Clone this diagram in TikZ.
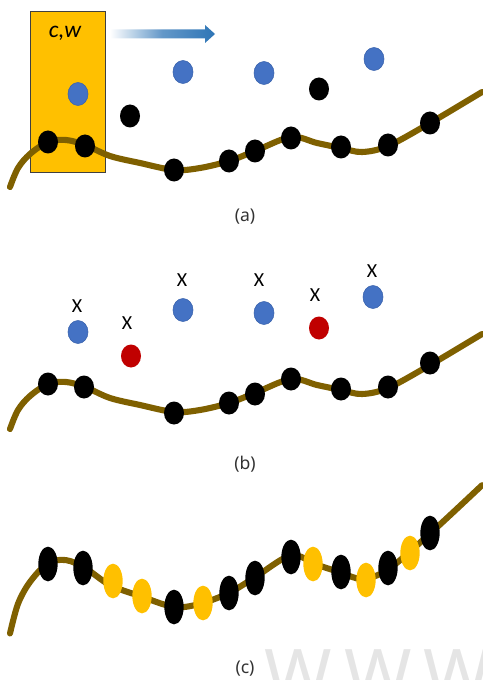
\documentclass[tikz,border=0pt]{standalone}
\usepackage{fontspec}
\setmainfont{Noto Sans}
\newfontfamily\calfont{Carlito}
\usetikzlibrary{shapes.geometric}
\definecolor{winGold}{HTML}{FFC000}
\definecolor{trackOlive}{HTML}{7F6000}
\definecolor{ptBlue}{HTML}{4472C4}
\definecolor{ptBlueEdge}{HTML}{3A63AD}
\definecolor{ptRed}{HTML}{C00000}
\definecolor{moveBlue}{HTML}{2E75B6}
\newcommand{\trackline}{plot[smooth, tension=0.55] coordinates {(10,187) (18,168) (30,154) (48,142) (66,140) (85,145) (110,156) (140,163) (174,170) (200,168) (229,161) (255,151) (291,137) (317,143) (341,148) (362,152) (388,146) (430,123) (482,92)}}
\tikzset{
    track/.style={draw=trackOlive, line width=5.2pt, line cap=round},
    winbox/.style={draw=black!75, line width=0.5pt, fill=winGold, minimum width=2.25cm, minimum height=4.83cm, inner sep=0pt},
    onpt/.style={ellipse, fill=black, inner sep=0pt, minimum width=0.6cm, minimum height=0.69cm},
    tallpt/.style={ellipse, fill=black, inner sep=0pt, minimum width=0.58cm, minimum height=1.04cm},
    goldpt/.style={tallpt, fill=winGold},
    bluept/.style={onpt, fill=ptBlue, draw=ptBlueEdge, line width=0.5pt},
    redpt/.style={onpt, fill=ptRed},
    xlab/.style={font=\calfont\fontsize{17}{20}\selectfont, inner sep=0pt},
    caption/.style={font=\fontsize{15}{18}\selectfont, text=black!80, inner sep=0pt},
    wmtext/.style={font=\fontsize{62}{70}\selectfont, text=black!10, inner sep=0pt}
}
\begin{document}
\begin{tikzpicture}[x=0.03cm, y=-0.03cm]
\useasboundingbox (0,0) rectangle (483,680);
\node[wmtext] (wm) at (378,676) {W\,W\,W};
% (a)
\node[winbox] (win) at (67.5,91.5) {};
\node[font=\calfont\itshape\fontsize{20}{24}\selectfont, inner sep=0pt] (cw) at (65,33) {c,w};
\shade[left color=white, right color=moveBlue, middle color=moveBlue!75] (110,29.5) -- (205,29.5) -- (205,25) -- (215,34) -- (205,43) -- (205,38.5) -- (110,38.5) -- cycle;
\draw[track] \trackline;
\node[onpt] (a1) at (48,142) {}; \node[onpt] (a2) at (85,146) {}; \node[onpt] (a3) at (174,170) {};
\node[onpt] (a4) at (229,161) {}; \node[onpt] (a5) at (255,151) {}; \node[onpt] (a6) at (291,138) {};
\node[onpt] (a7) at (341,147) {}; \node[onpt] (a8) at (388,145) {}; \node[onpt] (a9) at (430,123) {};
\node[bluept] (ab1) at (78,94) {}; \node[bluept] (ab2) at (183,72) {}; \node[bluept] (ab3) at (264,73) {}; \node[bluept] (ab4) at (374,59) {};
\node[onpt] (ak1) at (130,116) {}; \node[onpt] (ak2) at (319,89) {};
\node[caption] (capa) at (245,217) {(a)};
% (b)
\begin{scope}[shift={(0,242)}]
\draw[track] \trackline;
\end{scope}
\node[onpt] (b1) at (48,384) {}; \node[onpt] (b2) at (84,387) {}; \node[onpt] (b3) at (174,413) {};
\node[onpt] (b4) at (229,403) {}; \node[onpt] (b5) at (255,394) {}; \node[onpt] (b6) at (291,379) {};
\node[onpt] (b7) at (341,389) {}; \node[onpt] (b8) at (388,387) {}; \node[onpt] (b9) at (430,363) {};
\node[bluept] (bb1) at (78,332) {}; \node[redpt] (br1) at (131,356) {}; \node[bluept] (bb2) at (183,310) {};
\node[bluept] (bb3) at (264,313) {}; \node[redpt] (br2) at (319,328) {}; \node[bluept] (bb4) at (373,297) {};
\node[xlab] (x1) at (77,306) {X}; \node[xlab] (x2) at (127,323) {X}; \node[xlab] (x3) at (182,280) {X};
\node[xlab] (x4) at (259,280) {X}; \node[xlab] (x5) at (315,295) {X}; \node[xlab] (x6) at (372,271) {X};
\node[caption] (capb) at (245,464) {(b)};
% (c)
\begin{scope}[shift={(0,557)}, yscale=1.56, shift={(0,-138)}]
\draw[track] \trackline;
\end{scope}
\node[tallpt] (c1) at (48,564) {}; \node[tallpt] (c2) at (83,568) {}; \node[goldpt] (g1) at (113,581) {};
\node[goldpt] (g2) at (142,596) {}; \node[tallpt] (c3) at (174,607) {}; \node[goldpt] (g3) at (203,603) {};
\node[tallpt] (c4) at (229,593) {}; \node[tallpt] (c5) at (255,578) {}; \node[tallpt] (c6) at (291,557) {};
\node[goldpt] (g4) at (313,564) {}; \node[tallpt] (c7) at (341,572) {}; \node[goldpt] (g5) at (366,580) {};
\node[tallpt] (c8) at (388,568) {}; \node[goldpt] (g6) at (410,553) {}; \node[tallpt] (c9) at (430,533) {};
\node[caption] (capc) at (245,669) {(c)};
\end{tikzpicture}
\end{document}
